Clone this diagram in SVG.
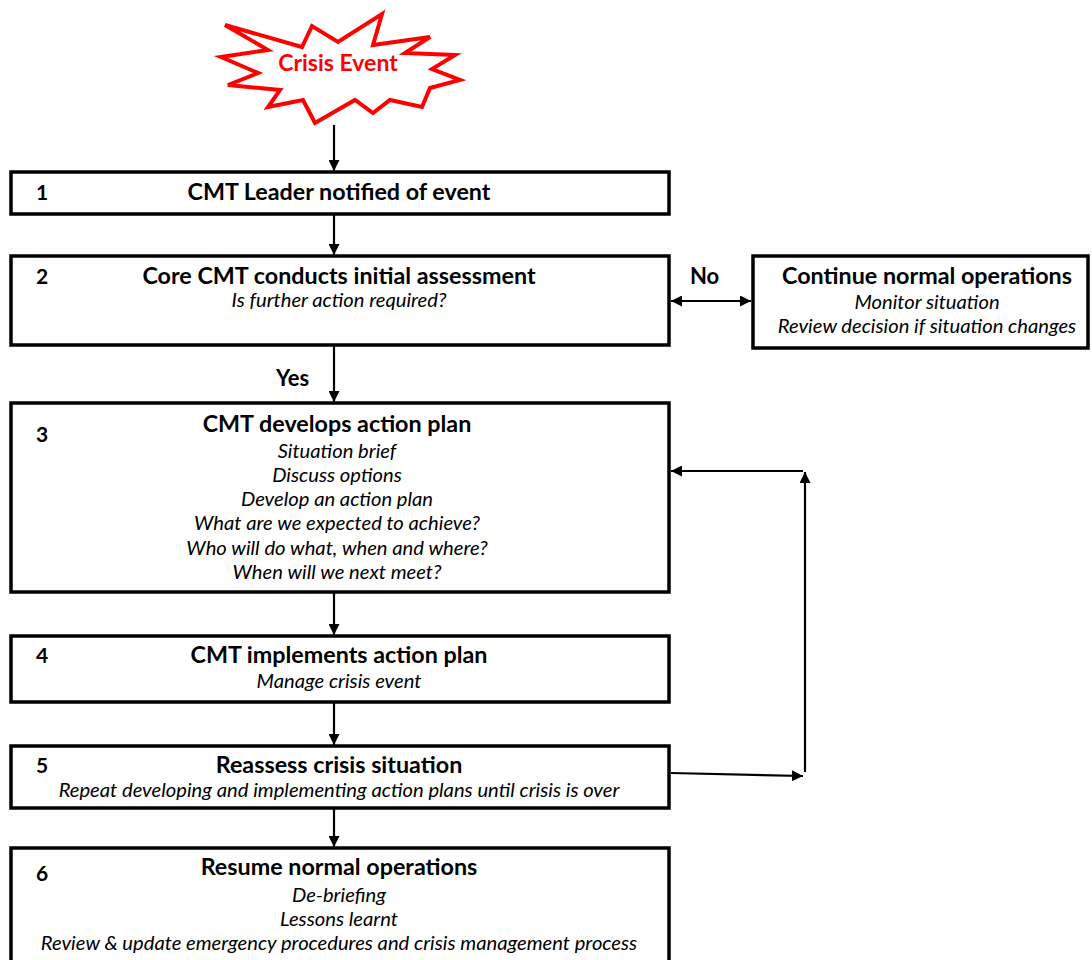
<svg xmlns="http://www.w3.org/2000/svg" width="1092" height="960" viewBox="0 0 1092 960">
<style>
.box{fill:#fff;stroke:#000;stroke-width:3.5}
.t{font-family:Lato,"Open Sans","Liberation Sans",sans-serif;font-weight:bold;font-size:23.3px;fill:#000;text-anchor:middle}
.n{font-family:Lato,"Open Sans","Liberation Sans",sans-serif;font-weight:bold;font-size:21px;fill:#000}
.i{font-family:Lato,"Open Sans","Liberation Sans",sans-serif;font-style:italic;font-size:20.2px;fill:#000;text-anchor:middle}
.c{stroke:#000;stroke-width:2.2;fill:none}
.lbl{font-family:Lato,"Open Sans","Liberation Sans",sans-serif;font-weight:bold;font-size:22px;fill:#000}
</style>
<defs>
<marker id="ah" viewBox="0 0 10 10" refX="10" refY="5" markerWidth="5" markerHeight="5" orient="auto-start-reverse" markerUnits="strokeWidth">
<path d="M0,0 L10,5 L0,10 Z" fill="#000"/>
</marker>
</defs>

<g id="crisis-event">
<polygon points="225,25 302,47 312,26 338,42 382,14 373,45 430,37 405,53 455,55 432,69 460,80 430,88 422,107 390,100 373,113 355,100 315,123 303,100 268,107 280,90 228,85 258,73 221,57 268,50" fill="#fff" stroke="#ff0000" stroke-width="4" stroke-linejoin="miter"/>
<text x="338" y="71" font-family="Lato,'Open Sans','Liberation Sans',sans-serif" font-weight="bold" font-size="23" fill="#ff0000" text-anchor="middle">Crisis Event</text>
</g>

<g id="connectors">
<line class="c" x1="334" y1="125" x2="334" y2="171" marker-end="url(#ah)"/>
<line class="c" x1="334" y1="215" x2="334" y2="255" marker-end="url(#ah)"/>
<line class="c" x1="334" y1="346" x2="334" y2="402" marker-end="url(#ah)"/>
<line class="c" x1="334" y1="593" x2="334" y2="635" marker-end="url(#ah)"/>
<line class="c" x1="334" y1="703" x2="334" y2="745" marker-end="url(#ah)"/>
<line class="c" x1="334" y1="809" x2="334" y2="847" marker-end="url(#ah)"/>
<line class="c" x1="671" y1="301" x2="751" y2="301" marker-start="url(#ah)" marker-end="url(#ah)"/>
<line class="c" x1="671" y1="773" x2="803" y2="776" marker-end="url(#ah)"/>
<line class="c" x1="805" y1="772" x2="805" y2="472" marker-end="url(#ah)"/>
<line class="c" x1="803" y1="471" x2="671" y2="471" marker-end="url(#ah)"/>
<text class="lbl" x="690" y="284">No</text>
<text class="lbl" x="276" y="386">Yes</text>
</g>

<g id="step1">
<rect class="box" x="11" y="172" width="658" height="42"/>
<text class="n" x="36" y="200">1</text>
<text class="t" x="339" y="200">CMT Leader notified of event</text>
</g>

<g id="step2">
<rect class="box" x="11" y="256" width="658" height="89"/>
<text class="n" x="36" y="284">2</text>
<text class="t" x="339" y="284">Core CMT conducts initial assessment</text>
<text class="i" x="339" y="307">Is further action required?</text>
</g>

<g id="continue">
<rect class="box" x="753" y="256" width="335" height="92"/>
<text class="t" x="927" y="284">Continue normal operations</text>
<text class="i" x="927" y="309">Monitor situation</text>
<text class="i" x="927" y="333">Review decision if situation changes</text>
</g>

<g id="step3">
<rect class="box" x="11" y="403" width="658" height="189"/>
<text class="n" x="36" y="442">3</text>
<text class="t" x="337" y="432">CMT develops action plan</text>
<text class="i" x="337" y="458">Situation brief</text>
<text class="i" x="337" y="482">Discuss options</text>
<text class="i" x="337" y="506">Develop an action plan</text>
<text class="i" x="337" y="530">What are we expected to achieve?</text>
<text class="i" x="337" y="555">Who will do what, when and where?</text>
<text class="i" x="337" y="579">When will we next meet?</text>
</g>

<g id="step4">
<rect class="box" x="11" y="636" width="658" height="66"/>
<text class="n" x="36" y="663">4</text>
<text class="t" x="339" y="663">CMT implements action plan</text>
<text class="i" x="339" y="688">Manage crisis event</text>
</g>

<g id="step5">
<rect class="box" x="11" y="746" width="658" height="62"/>
<text class="n" x="36" y="773">5</text>
<text class="t" x="339" y="773">Reassess crisis situation</text>
<text class="i" x="339" y="797">Repeat developing and implementing action plans until crisis is over</text>
</g>

<g id="step6">
<rect class="box" x="11" y="848" width="658" height="130"/>
<text class="n" x="36" y="881">6</text>
<text class="t" x="339" y="875">Resume normal operations</text>
<text class="i" x="339" y="902">De-briefing</text>
<text class="i" x="339" y="926">Lessons learnt</text>
<text class="i" x="339" y="950">Review &amp; update emergency procedures and crisis management process</text>
</g>
</svg>
